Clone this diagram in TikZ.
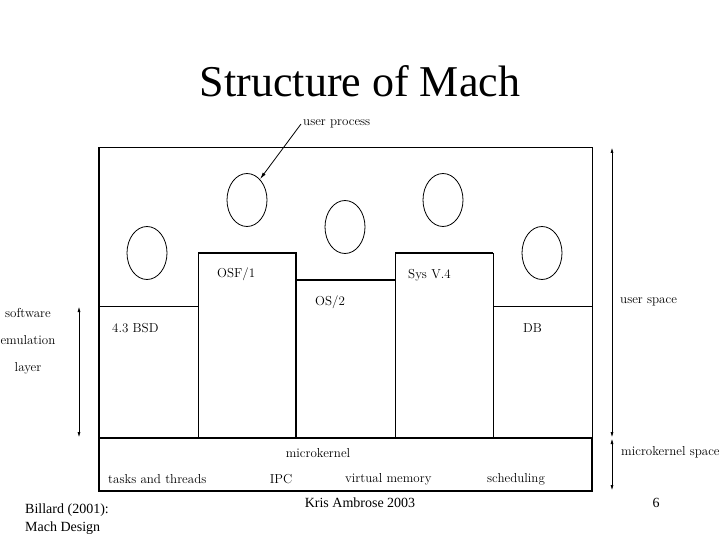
\documentclass[tikz,border=0pt]{standalone}
\usepackage{fontspec}
\usepackage{tikz}
\usetikzlibrary{arrows.meta, shapes.geometric}
\newfontfamily\timesfont{Liberation Serif}
\newcommand{\lblsize}{\fontsize{13}{15}\selectfont}
\tikzset{
  proc/.style={draw, ellipse, line width=0.8pt, minimum width=40pt,
               minimum height=53pt, inner sep=0pt},
  lbl/.style={font=\lblsize, inner sep=2pt},
  foot/.style={font=\timesfont\fontsize{14}{17}\selectfont, inner sep=0pt},
  thinline/.style={line width=0.9pt},
  thickline/.style={line width=1.8pt},
  flow/.style={-{Latex[length=7pt,width=3.5pt]}, line width=0.8pt},
  span/.style={{Latex[length=6pt,width=3pt]}-{Latex[length=6pt,width=3pt]}, line width=1pt},
}

\begin{document}
\begin{tikzpicture}[x=1pt, y=-1pt]
  \useasboundingbox (0,0) rectangle (720,540);
  \node[font=\timesfont\fontsize{44}{50}\selectfont] (title) at (360,81) {Structure of Mach};

  % frame and layers
  \draw[thinline] (99,147) -- (592,147) -- (592,438);
  \draw[thickline] (592,438) -- (592,491) -- (99,491) -- (99,147);
  \draw[thickline] (99,438) -- (592,438);
  \draw[thinline] (99,306) -- (198,306);
  \draw[thinline] (198,438) -- (198,253);
  \draw[thickline] (198,253) -- (296,253) -- (296,438);
  \draw[thickline] (296,280) -- (395,280);
  \draw[thinline] (395,438) -- (395,253);
  \draw[thickline] (395,253) -- (493,253);
  \draw[thinline] (493,253) -- (493,438);
  \draw[thinline] (493,306) -- (592,306);

  % processes
  \node (p1) [proc] at (147,253) {};
  \node (p2) [proc] at (247,200) {};
  \node (p3) [proc] at (345,227) {};
  \node (p4) [proc] at (443,200) {};
  \node (p5) [proc] at (542,253) {};
  \node (uproc) [lbl, anchor=west] at (301,124) {user process};
  \draw[flow] (uproc.west) -- (p2.58);

  % servers
  \node (bsd)  [lbl, anchor=west] at (110,328) {4.3 BSD};
  \node (osf)  [lbl, anchor=west] at (215,274) {OSF/1};
  \node (os2)  [lbl, anchor=west] at (313,302) {OS/2};
  \node (sysv) [lbl, anchor=west] at (406,275) {Sys V.4};
  \node (db)   [lbl, anchor=west] at (521,328) {DB};

  % microkernel
  \node (mk)    [lbl] at (318,453) {microkernel};
  \node (tasks) [lbl, anchor=west] at (106,479) {tasks and threads};
  \node (ipc)   [lbl] at (281,479) {IPC};
  \node (vm)    [lbl, anchor=west] at (343,479) {virtual memory};
  \node (sched) [lbl, anchor=west] at (485,479) {scheduling};

  % spans
  \coordinate (utop) at (612,147);
  \coordinate (umid) at (612,438);
  \coordinate (ubot) at (612,491);
  \draw[span] (utop) -- (umid);
  \draw[span] (umid) -- (ubot);
  \node (uspace)  [lbl, anchor=west] at (618,302) {user space};
  \node (mkspace) [lbl, anchor=west] at (619,452) {microkernel space};
  \coordinate (etop) at (79,306);
  \coordinate (ebot) at (79,438);
  \draw[span] (etop) -- (ebot);
  \node (emu) [font=\fontsize{13}{27}\selectfont, align=center] at (28,341)
    {software\\emulation\\layer};

  % footer
  \node (src)  [foot, anchor=west, align=left] at (25,519) {Billard (2001):\\[1pt]Mach Design};
  \node (auth) [foot] at (360,503) {Kris Ambrose 2003};
  \node (page) [foot] at (656,503) {6};
\end{tikzpicture}
\end{document}
